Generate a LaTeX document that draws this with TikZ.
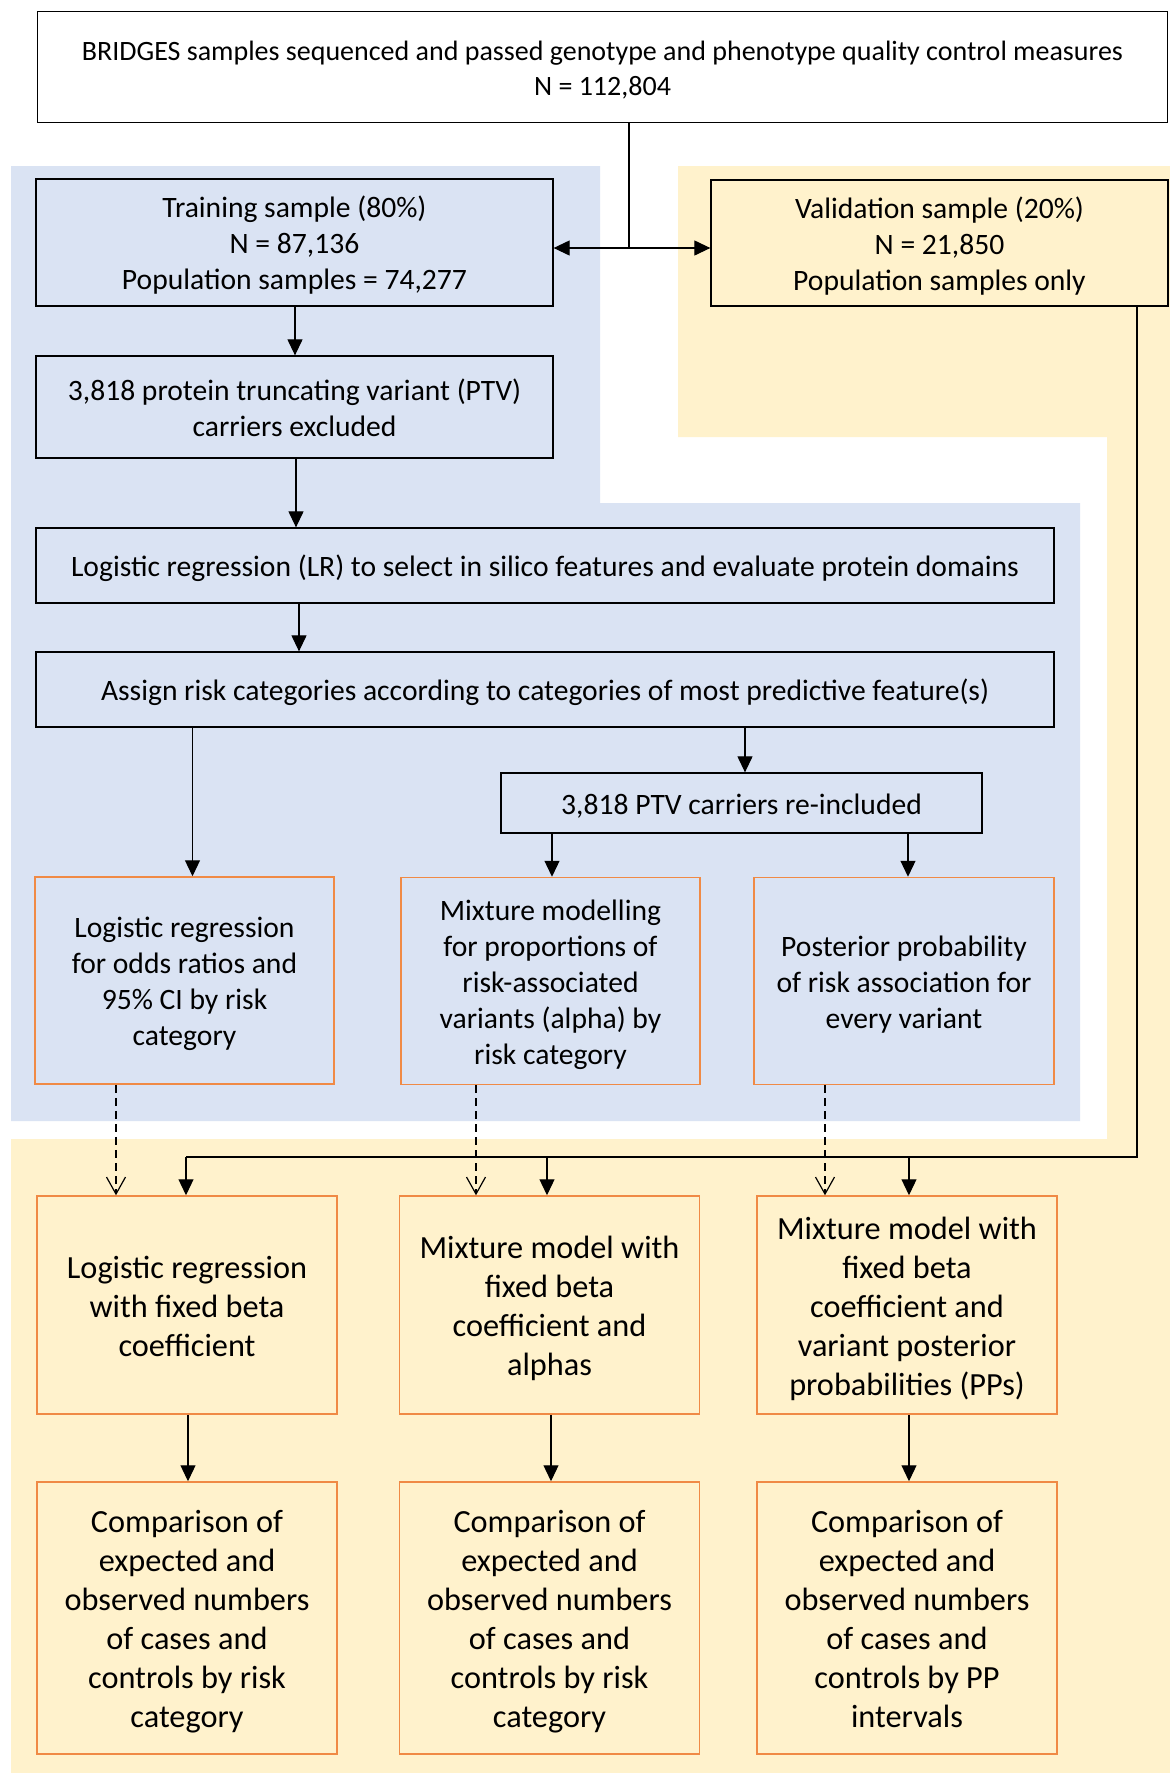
\documentclass[tikz,border=0pt]{standalone}
\usepackage{fontspec}
\setmainfont{Carlito}
\usetikzlibrary{arrows.meta}
\definecolor{bgblue}{HTML}{DAE3F3}
\definecolor{bgyellow}{HTML}{FFF2CC}
\definecolor{borange}{HTML}{F08A45}
\newcommand\mytop{\rule{0pt}{1em}}
\newcommand\mybot{\rule[-0.25em]{0pt}{0pt}}
\tikzset{
  blackbox/.style={draw=black, line width=1.3pt, align=center, inner sep=0pt,
    font=\fontsize{29.6}{36}\selectfont},
  orangebox/.style={draw=borange, line width=1.5pt, align=center, inner sep=0pt,
    font=\fontsize{29.6}{36}\selectfont},
  bigbox/.style={orangebox, fill=bgyellow, font=\fontsize{32.3}{39}\selectfont},
  arr/.style={line width=1.2pt, -{Triangle[length=16pt,width=15pt]}},
  dasharr/.style={line width=1.2pt, dash pattern=on 8pt off 5pt, -{Straight Barb[length=17pt,width=19pt,line width=1.2pt]}},
  plain/.style={line width=1.2pt}
}
\begin{document}
\begin{tikzpicture}[x=1pt,y=-1pt]
\useasboundingbox (0,0) rectangle (1170,1773);
\fill[white] (0,0) rectangle (1170,1773);
% background regions
\fill[bgyellow] (678,166) -- (1170,166) -- (1170,1773) -- (11,1773) -- (11,1139)
  -- (1107,1139) -- (1107,437) -- (678,437) -- cycle;
\fill[bgblue] (11,166) -- (600,166) -- (600,503) -- (1080,503) -- (1080,1121)
  -- (11,1121) -- cycle;

% nodes
\node[blackbox, fill=white, minimum width=1130, minimum height=111,
  font=\fontsize{28}{35}\selectfont] (top) at (602.5,67)
  {\mytop BRIDGES samples sequenced and passed genotype and phenotype quality control measures\\N = 112,804\mybot};
\node[blackbox, fill=bgblue, minimum width=517, minimum height=127] (train) at (294.5,242.5)
  {\mytop Training sample (80\%)\\N = 87,136\\Population samples = 74,277\mybot};
\node[blackbox, fill=bgyellow, minimum width=457, minimum height=126] (valid) at (939.5,243)
  {\mytop Validation sample (20\%)\\N = 21,850\\Population samples only\mybot};
\node[blackbox, fill=bgblue, minimum width=517, minimum height=102] (ptv) at (294.5,407)
  {\mytop 3,818 protein truncating variant (PTV)\\carriers excluded\mybot};
\node[blackbox, fill=bgblue, minimum width=1018, minimum height=75] (lr) at (545,565.5)
  {\mytop Logistic regression (LR) to select in silico features and evaluate protein domains\mybot};
\node[blackbox, fill=bgblue, minimum width=1018, minimum height=75] (assign) at (545,689.5)
  {\mytop Assign risk categories according to categories of most predictive feature(s)\mybot};
\node[blackbox, fill=bgblue, minimum width=481, minimum height=60] (reinc) at (741.5,803)
  {\mytop 3,818 PTV carriers re-included\mybot};

\node[orangebox, fill=bgblue, minimum width=299, minimum height=207] (ora) at (184.5,980.5)
  {\mytop Logistic regression\\for odds ratios and\\95\% CI by risk\\category\mybot};
\node[orangebox, fill=bgblue, minimum width=299, minimum height=207] (mixm) at (550.5,981)
  {\mytop Mixture modelling\\for proportions of\\risk-associated\\variants (alpha) by\\risk category\mybot};
\node[orangebox, fill=bgblue, minimum width=300, minimum height=207] (post) at (904,981)
  {\mytop Posterior probability\\of risk association for\\every variant\mybot};

\node[bigbox, minimum width=300, minimum height=218] (lrfix) at (187,1305)
  {\mytop Logistic regression\\with fixed beta\\coefficient\mybot};
\node[bigbox, minimum width=300, minimum height=218] (mmfix) at (549.5,1305)
  {\mytop Mixture model with\\fixed beta\\coefficient and\\alphas\mybot};
\node[bigbox, minimum width=300, minimum height=218] (mmpp) at (907,1305)
  {\mytop Mixture model with\\fixed beta\\coefficient and\\variant posterior\\probabilities (PPs)\mybot};

\node[bigbox, minimum width=300, minimum height=272] (cmp1) at (187,1618)
  {\mytop Comparison of\\expected and\\observed numbers\\of cases and\\controls by risk\\category\mybot};
\node[bigbox, minimum width=300, minimum height=272] (cmp2) at (549.5,1618)
  {\mytop Comparison of\\expected and\\observed numbers\\of cases and\\controls by risk\\category\mybot};
\node[bigbox, minimum width=300, minimum height=272] (cmp3) at (907,1618)
  {\mytop Comparison of\\expected and\\observed numbers\\of cases and\\controls by PP\\intervals\mybot};

% connectors
\coordinate (j) at (629,248);
\draw[plain] (top.south -| j) -- (j);
\draw[arr] (j) -- (j -| train.east);
\draw[arr] (j) -- (j -| valid.west);

\draw[arr] (train.south -| 295,0) -- (ptv.north -| 295,0);
\draw[arr] (ptv.south -| 296,0) -- (lr.north -| 296,0);
\draw[arr] (lr.south -| 299,0) -- (assign.north -| 299,0);

\draw[arr] (assign.south -| 192.5,0) -- (ora.north -| 192.5,0);
\draw[arr] (assign.south -| 745,0) -- (reinc.north -| 745,0);
\draw[arr] (reinc.south -| 552,0) -- (mixm.north -| 552,0);
\draw[arr] (reinc.south -| 908,0) -- (post.north -| 908,0);

\draw[dasharr] (ora.south -| 116,0) -- (lrfix.north -| 116,0);
\draw[dasharr] (mixm.south -| 476,0) -- (mmfix.north -| 476,0);
\draw[dasharr] (post.south -| 825,0) -- (mmpp.north -| 825,0);

\coordinate (vr) at (1137,1157);
\draw[plain] (valid.south -| vr) -- (vr) -- (vr -| 186,0);
\draw[arr] (186,1157) -- (lrfix.north -| 186,0);
\draw[arr] (547,1157) -- (mmfix.north -| 547,0);
\draw[arr] (909,1157) -- (mmpp.north -| 909,0);

\draw[arr] (lrfix.south -| 188,0) -- (cmp1.north -| 188,0);
\draw[arr] (mmfix.south -| 551,0) -- (cmp2.north -| 551,0);
\draw[arr] (mmpp.south -| 909,0) -- (cmp3.north -| 909,0);
\end{tikzpicture}
\end{document}
